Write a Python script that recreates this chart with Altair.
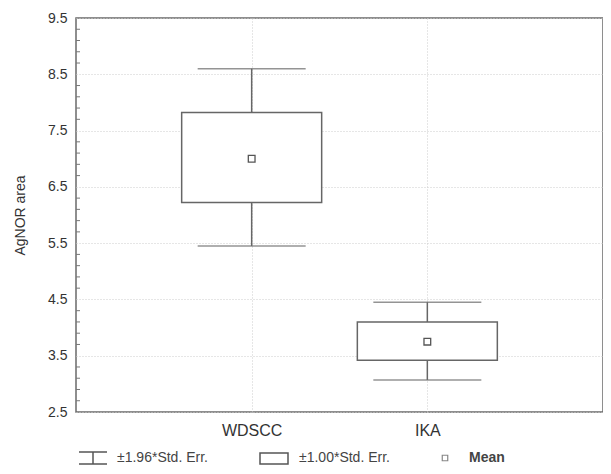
import altair as alt
import pandas as pd

groups = ["WDSCC", "IKA"]
means = [7.0, 3.75]
se_low = [6.22, 3.42]
se_high = [7.82, 4.10]
ci_low = [5.45, 3.07]
ci_high = [8.60, 4.45]
y_ticks = [2.5, 3.5, 4.5, 5.5, 6.5, 7.5, 8.5, 9.5]
minor_ticks = [2.7, 2.9, 3.1, 3.3, 3.7, 3.9, 4.1, 4.3, 4.7, 4.9, 5.1, 5.3,
               5.7, 5.9, 6.1, 6.3, 6.7, 6.9, 7.1, 7.3, 7.7, 7.9, 8.1, 8.3,
               8.7, 8.9, 9.1, 9.3]
legend_labels = ["±1.96*Std. Err.", "±1.00*Std. Err.", "Mean"]

df = pd.DataFrame({"group": groups, "mean": means, "se_low": se_low,
                   "se_high": se_high, "ci_low": ci_low, "ci_high": ci_high})
minor_df = pd.DataFrame({"v": minor_ticks})
one = pd.DataFrame({"k": [0]})

FONT = "Liberation Sans"
LINE = "#666666"
W, H = 527, 394

xenc = alt.X("group:N", sort=groups, title=None,
             scale=alt.Scale(type="point", padding=1),
             axis=alt.Axis(labelFontSize=16, labelColor="#333333", labelFont=FONT,
                           labelPadding=10, tickSize=0, domain=False, grid=True,
                           gridColor="#cccccc", gridDash=[1, 2], labelAngle=0))
yscale = alt.Scale(domain=[2.5, 9.5], nice=False, zero=False)
yenc_axis = alt.Axis(values=y_ticks, format=".1f", labelFontSize=14,
                     labelColor="#333333", labelFont=FONT, labelPadding=9,
                     tickSize=0, domain=False, grid=True, gridColor="#cccccc",
                     gridDash=[1, 2], title="AgNOR area", titleFont=FONT,
                     titleFontSize=14, titleFontWeight="normal",
                     titleColor="#333333", titlePadding=20)

base = alt.Chart(df)

whisk = base.mark_rule(color=LINE, strokeWidth=1.5).encode(
    x=xenc,
    y=alt.Y("ci_low:Q", scale=yscale, axis=yenc_axis),
    y2="ci_high:Q")

box = base.mark_bar(size=140, fill="white", stroke=LINE, strokeWidth=1.5).encode(
    x=alt.X("group:N", sort=groups), y=alt.Y("se_low:Q", scale=yscale), y2="se_high:Q")

cap_lo = base.mark_tick(size=108, thickness=1.5, color=LINE, orient="horizontal").encode(
    x=alt.X("group:N", sort=groups), y=alt.Y("ci_low:Q", scale=yscale))
cap_hi = base.mark_tick(size=108, thickness=1.5, color=LINE, orient="horizontal").encode(
    x=alt.X("group:N", sort=groups), y=alt.Y("ci_high:Q", scale=yscale))

mean_pt = base.mark_square(size=45, filled=False, fill="white", fillOpacity=1,
                           stroke="#555555", strokeWidth=1.3, opacity=1).encode(
    x=alt.X("group:N", sort=groups), y=alt.Y("mean:Q", scale=yscale))

minor = alt.Chart(minor_df).mark_rule(color="#777777", strokeWidth=1).encode(
    x=alt.value(0), x2=alt.value(4), y=alt.Y("v:Q", scale=yscale))

lg = alt.Chart(one)
lc = "#555555"
LY = 440
leg = [
    lg.mark_rule(color=lc, strokeWidth=1.5).encode(x=alt.value(3), x2=alt.value(31), y=alt.value(LY - 6)),
    lg.mark_rule(color=lc, strokeWidth=1.5).encode(x=alt.value(3), x2=alt.value(31), y=alt.value(LY + 6)),
    lg.mark_rule(color=lc, strokeWidth=1.5).encode(x=alt.value(17), y=alt.value(LY - 6), y2=alt.value(LY + 6)),
    lg.mark_text(align="left", baseline="middle", font=FONT, fontSize=14, color="#444444").encode(
        x=alt.value(41), y=alt.value(LY), text=alt.value(legend_labels[0])),
    lg.mark_rect(fill="white", stroke=lc, strokeWidth=1.5).encode(
        x=alt.value(184), x2=alt.value(212), y=alt.value(LY - 5), y2=alt.value(LY + 6)),
    lg.mark_text(align="left", baseline="middle", font=FONT, fontSize=14, color="#444444").encode(
        x=alt.value(223), y=alt.value(LY), text=alt.value(legend_labels[1])),
    lg.mark_square(size=30, fill="white", stroke=lc, strokeWidth=1.2, filled=False).encode(
        x=alt.value(369), y=alt.value(LY)),
    lg.mark_text(align="left", baseline="middle", font=FONT, fontSize=14, fontWeight="bold",
                 color="#444444").encode(
        x=alt.value(393), y=alt.value(LY), text=alt.value(legend_labels[2])),
]

chart = alt.layer(whisk, box, cap_lo, cap_hi, mean_pt, minor, *leg).properties(
    width=W, height=H,
    autosize=alt.AutoSizeParams(type="none"),
    padding={"left": 68, "top": 10, "right": 0, "bottom": 54},
    background="white",
).configure_view(stroke="#6a6a6a", strokeWidth=1.5)

chart.save("out.html", embed_options={"renderer": "svg", "actions": False})
